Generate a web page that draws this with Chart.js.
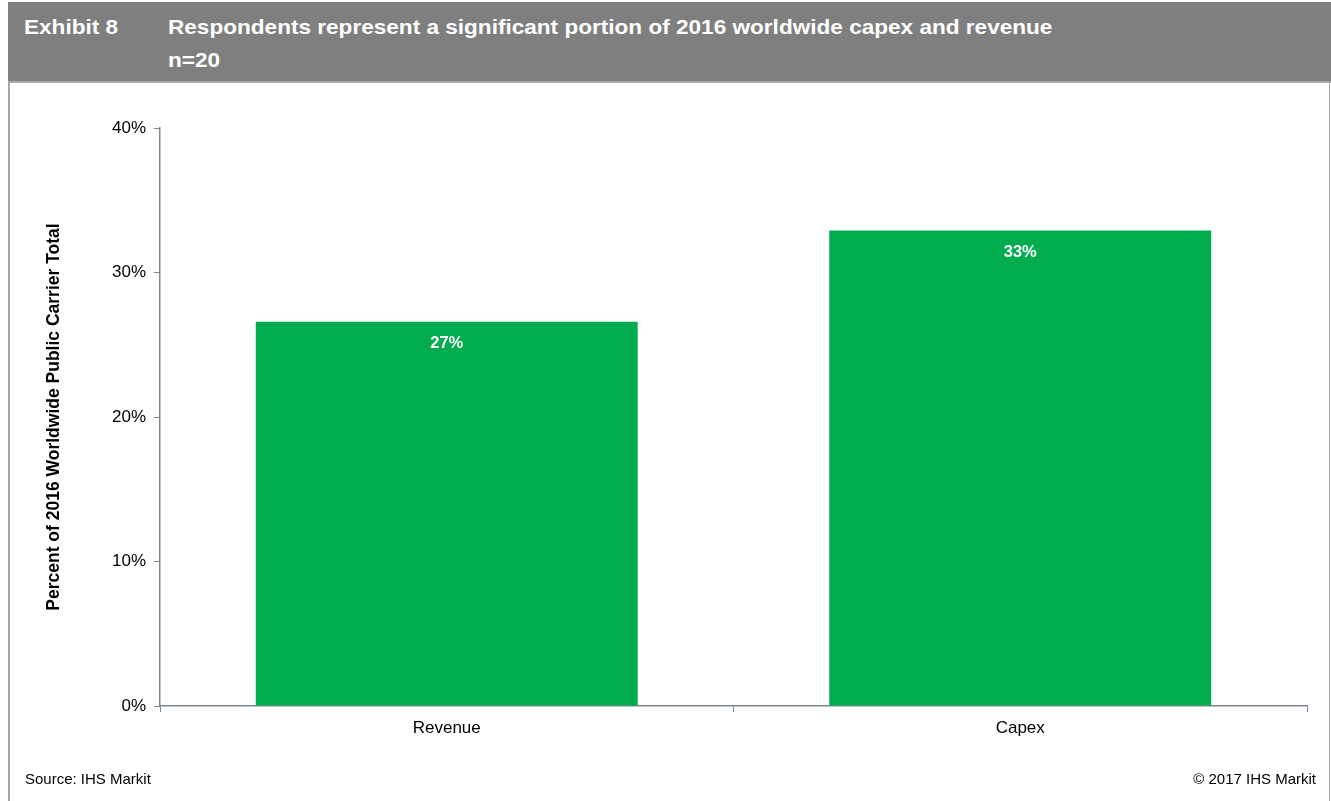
<!DOCTYPE html>
<html>
<head>
<meta charset="utf-8">
<title>Exhibit 8</title>
<script src="https://cdn.jsdelivr.net/npm/chart.js@4/dist/chart.umd.min.js"></script>
<style>
  body { margin: 0; width: 1331px; height: 801px; background: #fff; overflow: hidden;
         font-family: "Liberation Sans", Arial, sans-serif; position: relative; }
  .header { position: absolute; left: 8px; top: 2px; width: 1323px; height: 79px;
            background: #7f7f7f; border-bottom: 2px solid #a9a9a9; }
  .header div { position: absolute; color: #fff; font-weight: bold; font-size: 21px; line-height: 24px;
                white-space: nowrap; transform: scaleX(1.075); transform-origin: left center; }
  .frame-l { position: absolute; left: 8px; top: 83px; height: 718px; border-left: 2px solid #a6a6a6; }
  .frame-r { position: absolute; left: 1329px; top: 83px; height: 718px; border-left: 1px solid #a6a6a6; }
  .foot { position: absolute; top: 770px; font-size: 15px; line-height: 18px; color: #000; }
  #wrap { position: absolute; left: 8px; top: 84px; width: 1321px; height: 700px; }
</style>
</head>
<body>
<div class="header">
  <div style="left:16px; top:13px;">Exhibit 8</div>
  <div style="left:160px; top:13px;">Respondents represent a significant portion of 2016 worldwide capex and revenue</div>
  <div style="left:160px; top:46px;">n=20</div>
</div>
<div class="frame-l"></div>
<div class="frame-r"></div>
<div id="wrap"><canvas id="canvas" width="1321" height="700"></canvas></div>
<div class="foot" style="left:25px;">Source: IHS Markit</div>
<div class="foot" style="right:15px;">© 2017 IHS Markit</div>

<script>
'use strict';

const categories = ['Revenue', 'Capex'];
const shares = [26.6, 32.9];
const yTicks = [0, 10, 20, 30, 40];

const AXIS = '#7d8591';
const GREEN = '#00ac4e';

// white percentage inside the top of each bar
const barLabels = {
   id: 'barLabels',
   afterDatasetsDraw(chart) {
      let ctx = chart.ctx;
      let meta = chart.getDatasetMeta(0);
      ctx.save();
      ctx.fillStyle = '#fff';
      ctx.font = 'bold 16.5px "Liberation Sans", Arial, sans-serif';
      ctx.textAlign = 'center';
      ctx.textBaseline = 'middle';
      meta.data.forEach((bar, i) => {
         let value = chart.data.datasets[0].data[i];
         ctx.fillText(Math.round(value) + '%', bar.x, bar.y + 22);
      });
      ctx.restore();
   }
};

let ctx = document.querySelector('#canvas').getContext('2d');
let chart = new Chart(ctx, {
   type: 'bar',
   data: {
      labels: categories,
      datasets: [{
         data: shares,
         backgroundColor: GREEN,
         borderWidth: 0,
         categoryPercentage: 1,
         barPercentage: 0.666
      }]
   },
   options: {
      responsive: false,
      animation: false,
      layout: {padding: {left: 32, top: 44, right: 22, bottom: 38}},
      plugins: {legend: {display: false}, tooltip: {enabled: false}},
      scales: {
         x: {
            grid: {drawOnChartArea: false, drawTicks: true, tickLength: 6, color: AXIS},
            border: {color: AXIS, width: 1.5},
            ticks: {color: '#000', padding: 6, font: {family: '"Liberation Sans", Arial', size: 17}},
            afterFit(scale) { scale.height = 40; }
         },
         y: {
            min: yTicks[0],
            max: yTicks[yTicks.length - 1],
            afterBuildTicks(scale) { scale.ticks = yTicks.map(v => ({value: v})); },
            grid: {drawOnChartArea: false, drawTicks: true, tickLength: 6, color: AXIS},
            border: {color: AXIS, width: 1.5},
            ticks: {
               color: '#000',
               padding: 8,
               font: {family: '"Liberation Sans", Arial', size: 17},
               callback: v => v + '%'
            },
            title: {
               display: true,
               text: 'Percent of 2016 Worldwide Public Carrier Total',
               color: '#000',
               font: {family: '"Liberation Sans", Arial', size: 17.5, weight: 'bold'}
            },
            afterFit(scale) { scale.width = 120; }
         }
      }
   },
   plugins: [barLabels]
});
</script>
</body>
</html>
